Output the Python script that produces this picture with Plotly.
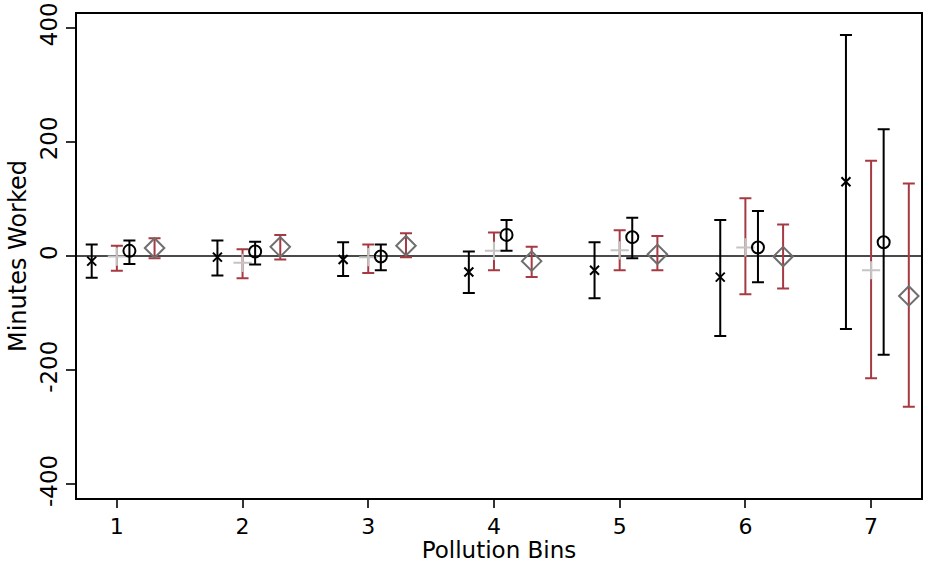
import plotly.graph_objects as go
import numpy as np

bins = [1, 2, 3, 4, 5, 6, 7]

# Series A (black x, black CI)
a_est = [-9, -2, -6, -28, -25, -37, 130]
a_lo = [-38, -34, -35, -65, -74, -140, -128]
a_hi = [20, 27, 24, 8, 24, 63, 387]

# Series B (light grey +, red CI)
b_est = [-1, -12, -2, 9, 10, 15, -25]
b_lo = [-26, -39, -30, -25, -25, -67, -214]
b_hi = [18, 12, 20, 41, 45, 101, 167]

# Series C (black circle, black CI)
c_est = [9, 8, -1, 37, 33, 15, 24]
c_lo = [-14, -15, -25, 9, -4, -46, -173]
c_hi = [27, 25, 20, 63, 67, 79, 222]

# Series D (grey diamond, red CI)
d_est = [14, 16, 18, -9, 3, -1, -70]
d_lo = [-4, -6, -2, -37, -25, -57, -264]
d_hi = [31, 37, 40, 16, 35, 55, 127]

RED = "#a63a42"
series = [
    (a_est, a_lo, a_hi, -0.2, "x-thin-open", "black", 9, "black"),
    (b_est, b_lo, b_hi, 0.0, "cross-thin-open", "#c4c4c4", 13, RED),
    (c_est, c_lo, c_hi, 0.1, "circle-open", "black", 12, "black"),
    (d_est, d_lo, d_hi, 0.3, "diamond-open", "#6e6e6e", 15, RED),
]

fig = go.Figure()
fig.add_hline(y=0, line=dict(color="#4a4a4a", width=2), layer="below")

for est, lo, hi, off, sym, mcol, msz, ecol in series:
    est_a = np.array(est, dtype=float)
    fig.add_trace(go.Scatter(
        x=np.array(bins) + off,
        y=est_a,
        mode="markers",
        marker=dict(symbol=sym, size=msz, color=mcol,
                    line=dict(color=mcol, width=2)),
        error_y=dict(type="data", symmetric=False,
                     array=np.array(hi) - est_a,
                     arrayminus=est_a - np.array(lo),
                     color=ecol, thickness=2, width=6),
        showlegend=False,
    ))

font = "DejaVu Sans, Verdana, sans-serif"
fig.update_layout(
    width=925, height=563,
    margin=dict(l=77, r=2, t=14, b=65),
    paper_bgcolor="white", plot_bgcolor="white",
    font=dict(family=font, size=22, color="black"),
    xaxis=dict(range=[0.683, 7.397], tickvals=bins, ticks="outside",
               ticklen=8, tickwidth=1.5, tickcolor="#333",
               showgrid=False, zeroline=False,
               showline=True, linecolor="black", linewidth=2, mirror=True,
               title=dict(text="Pollution Bins", font=dict(size=23), standoff=5),
               tickfont=dict(size=22)),
    yaxis=dict(range=[-424, 424], tickvals=[-400, -200, 0, 200, 400],
               ticktext=["-400", "-200", "0", "200", "400"],
               ticks="outside", ticklen=9, tickwidth=1.5, tickcolor="#333",
               tickangle=-90,
               showgrid=False, zeroline=False,
               showline=True, linecolor="black", linewidth=2, mirror=True,
               title=dict(text="Minutes Worked", font=dict(size=24), standoff=2),
               tickfont=dict(size=23)),
)

fig.write_html("out.html")
